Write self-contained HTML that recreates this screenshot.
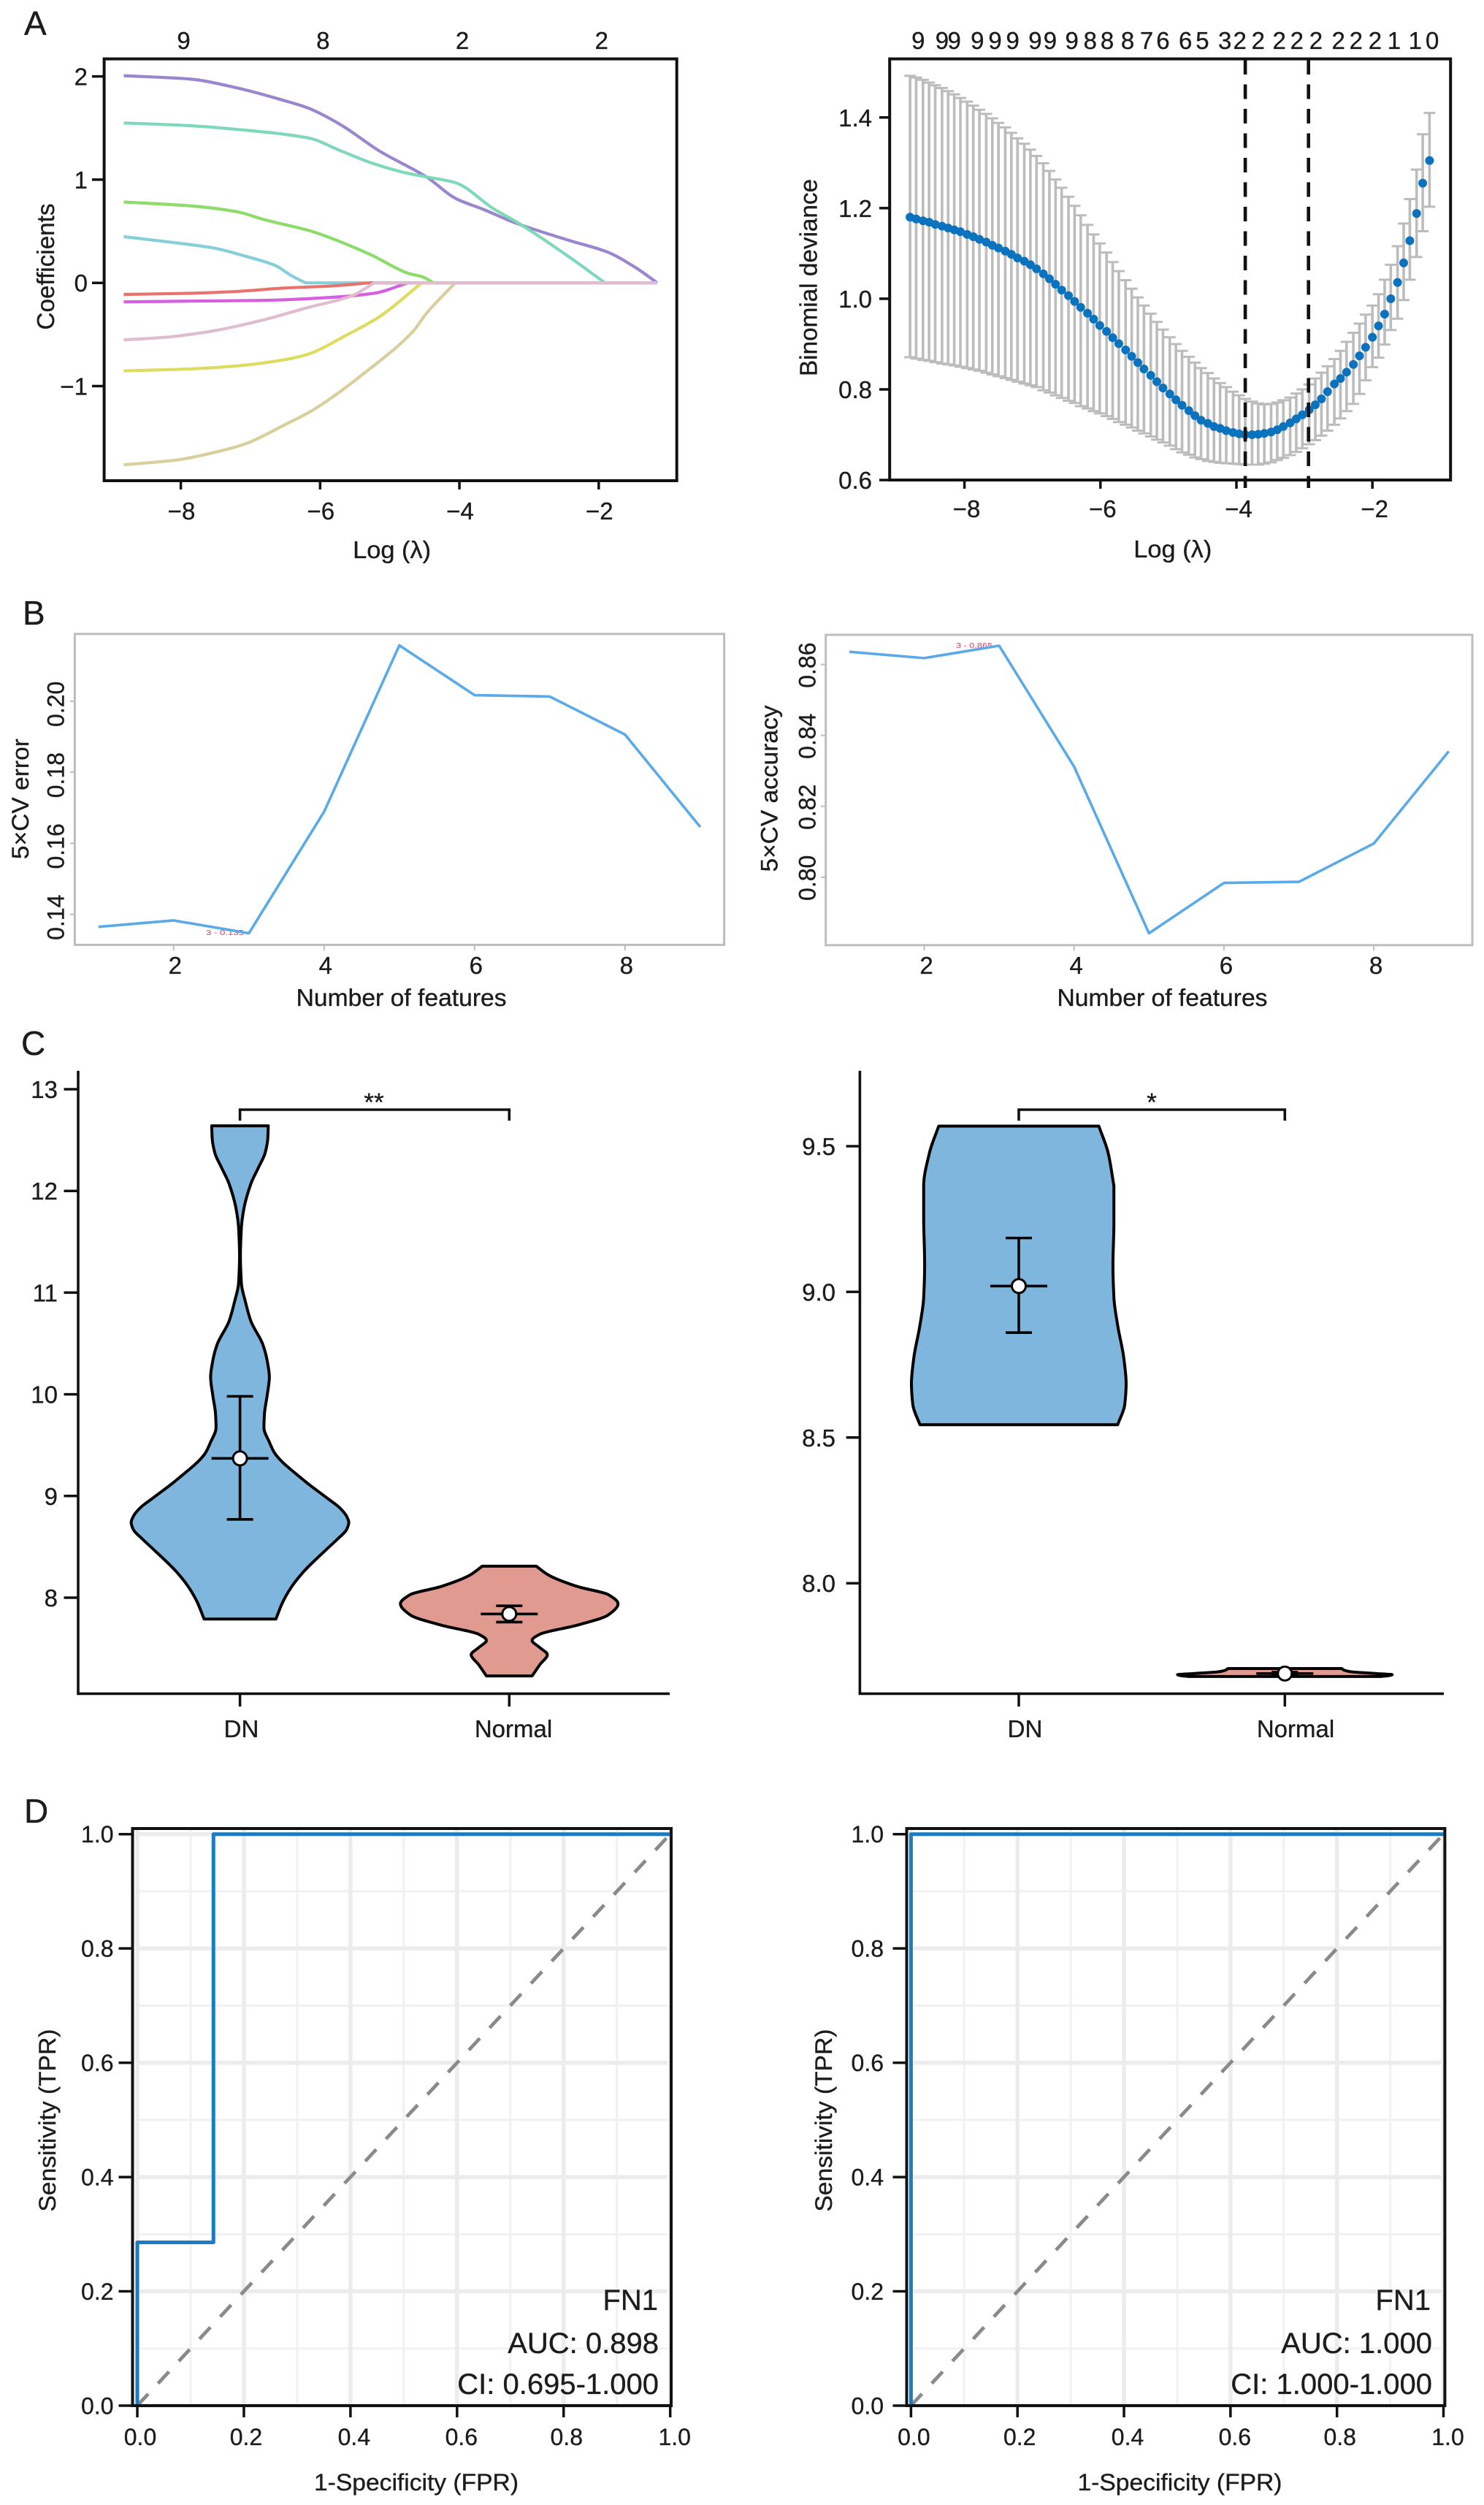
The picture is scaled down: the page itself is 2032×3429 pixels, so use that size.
<!DOCTYPE html>
<html lang="en">
<head>
<meta charset="utf-8">
<title>Feature selection, violin and ROC figure</title>
<style>
html,body{margin:0;padding:0;background:#fff;}
svg{display:block;}
text{font-family:"Liberation Sans",sans-serif;fill:#1c1c1c;stroke:#1c1c1c;stroke-width:0.35;}
</style>
</head>
<body>
<svg id="figure" xmlns="http://www.w3.org/2000/svg" width="2032" height="3429" viewBox="0 0 2032 3429">
<rect x="0" y="0" width="2032" height="3429" fill="#fff"/>

<text x="33" y="48" font-size="46">A</text>
<text x="31" y="855" font-size="46">B</text>
<text x="29" y="1444" font-size="46">C</text>
<text x="33" y="2495" font-size="46">D</text>

<g id="coefPanel">
  <text transform="rotate(-90 74 365)" x="74" y="365" font-size="33" text-anchor="middle" textLength="173" lengthAdjust="spacingAndGlyphs">Coefficients</text>
  <text x="536.6" y="764" font-size="33" text-anchor="middle" textLength="107" lengthAdjust="spacingAndGlyphs">Log (λ)</text>
</g>

<g id="cvPanel">
  <text transform="rotate(-90 1118.4 380)" x="1118.4" y="380" font-size="33" text-anchor="middle" textLength="270" lengthAdjust="spacingAndGlyphs">Binomial deviance</text>
  <text x="1605.8" y="763" font-size="33" text-anchor="middle" textLength="107" lengthAdjust="spacingAndGlyphs">Log (λ)</text>
</g>

<g id="errPanel">
  <text transform="rotate(-90 39 1093.6)" x="39" y="1093.6" font-size="32" text-anchor="middle" textLength="165" lengthAdjust="spacingAndGlyphs">5×CV error</text>
  <text x="549.6" y="1377" font-size="33" text-anchor="middle" textLength="288" lengthAdjust="spacingAndGlyphs">Number of features</text>
  <text x="282" y="1280" font-size="10" textLength="52" lengthAdjust="spacingAndGlyphs" style="fill:#e0405a;stroke:none">3 - 0.135</text>
</g>

<g id="accPanel">
  <text transform="rotate(-90 1064.6 1079.5)" x="1064.6" y="1079.5" font-size="32" text-anchor="middle" textLength="228" lengthAdjust="spacingAndGlyphs">5×CV accuracy</text>
  <text x="1591.5" y="1377" font-size="33" text-anchor="middle" textLength="288" lengthAdjust="spacingAndGlyphs">Number of features</text>
  <text x="1309" y="887" font-size="10" textLength="50" lengthAdjust="spacingAndGlyphs" style="fill:#e0405a;stroke:none">3 - 0.865</text>
</g>

<g id="violinLeft">
  <text x="330.5" y="2378" font-size="33" text-anchor="middle">DN</text>
  <text x="703" y="2378" font-size="33" text-anchor="middle">Normal</text>
  <text x="512" y="1521" font-size="35" text-anchor="middle">**</text>
</g>

<g id="violinRight">
  <text x="1403.5" y="2378" font-size="33" text-anchor="middle">DN</text>
  <text x="1774" y="2378" font-size="33" text-anchor="middle">Normal</text>
  <text x="1577" y="1521" font-size="35" text-anchor="middle">*</text>
</g>

<g id="rocLeft"></g>
<g id="rocRight"></g>

<g id="rocLeftText">
  <text transform="rotate(-90 76 2902.5)" x="76" y="2902.5" font-size="32" text-anchor="middle" textLength="250" lengthAdjust="spacingAndGlyphs">Sensitivity (TPR)</text>
  <text x="570" y="3409" font-size="32" text-anchor="middle" textLength="280" lengthAdjust="spacingAndGlyphs">1-Specificity (FPR)</text>
  <text x="901" y="3162" font-size="40" text-anchor="end">FN1</text>
  <text x="902" y="3221" font-size="40" text-anchor="end">AUC: 0.898</text>
  <text x="902" y="3277" font-size="40" text-anchor="end">CI: 0.695-1.000</text>
</g>
<g id="rocRightText">
  <text transform="rotate(-90 1139 2902.5)" x="1139" y="2902.5" font-size="32" text-anchor="middle" textLength="250" lengthAdjust="spacingAndGlyphs">Sensitivity (TPR)</text>
  <text x="1615.5" y="3409" font-size="32" text-anchor="middle" textLength="280" lengthAdjust="spacingAndGlyphs">1-Specificity (FPR)</text>
  <text x="1959" y="3162" font-size="40" text-anchor="end">FN1</text>
  <text x="1961" y="3221" font-size="40" text-anchor="end">AUC: 1.000</text>
  <text x="1961" y="3277" font-size="40" text-anchor="end">CI: 1.000-1.000</text>
</g>
</svg>

<script>
/* ---------- Panel A left: coefficient paths ---------- */
const coefXTicks = [-8, -6, -4, -2];
const coefYTicks = [-1, 0, 1, 2];
const coefTopValues = [-8, -6, -4, -2];
const coefTopCounts = ['9', '8', '2', '2'];
const coefPurpleX = [-8.82,-7.88,-7.2,-6.51,-6.17,-5.7,-5.15,-4.47,-4.06,-3.65,-3.17,-2.42,-1.88,-1.47,-1.16];
const coefPurpleY = [2.007,1.975,1.89,1.765,1.693,1.53,1.278,1.025,0.82,0.71,0.574,0.41,0.30,0.148,0];
const coefTealX = [-8.82,-7.88,-7.2,-6.17,-5.7,-5.22,-4.81,-4.47,-4.06,-3.51,-3.14,-2.42,-1.91,-1.16];
const coefTealY = [1.549,1.523,1.487,1.404,1.278,1.152,1.072,1.025,0.971,0.718,0.574,0.249,0,0];
const coefGreenX = [-8.82,-7.88,-7.2,-6.79,-6.17,-5.83,-5.29,-4.71,-4.54,-4.37,-1.16];
const coefGreenY = [0.783,0.747,0.69,0.61,0.509,0.43,0.278,0.087,0.061,0,0];
const coefCyanX = [-8.82,-8.22,-7.54,-7.06,-6.65,-6.41,-6.21,-1.16];
const coefCyanY = [0.448,0.40,0.339,0.256,0.17,0.069,0,0];
const coefRedX = [-8.82,-7.88,-7.2,-6.51,-5.83,-5.29,-1.16];
const coefRedY = [-0.112,-0.101,-0.083,-0.05,-0.03,0,0];
const coefMagentaX = [-8.82,-7.88,-6.85,-5.83,-5.22,-4.74,-1.16];
const coefMagentaY = [-0.184,-0.177,-0.17,-0.14,-0.10,0,0];
const coefYellowX = [-8.82,-7.88,-7.2,-6.51,-6.17,-5.63,-5.15,-4.54,-1.16];
const coefYellowY = [-0.852,-0.834,-0.805,-0.744,-0.69,-0.509,-0.329,0,0];
const coefTanX = [-8.82,-8.08,-7.54,-7.06,-6.51,-6.1,-5.29,-4.67,-4.47,-4.06,-1.16];
const coefTanY = [-1.762,-1.718,-1.646,-1.556,-1.375,-1.231,-0.834,-0.473,-0.292,0,0];
const coefPinkX = [-8.82,-8.22,-7.54,-6.85,-6.17,-5.56,-5.22,-1.16];
const coefPinkY = [-0.552,-0.527,-0.466,-0.365,-0.238,-0.13,0,0];

/* ---------- Panel A right: cross-validated deviance ---------- */
const cvXTicks = [-8, -6, -4, -2];
const cvYTicks = [0.6, 0.8, 1.0, 1.2, 1.4];
const cvLogLambda = [-8.80,-8.71,-8.61,-8.52,-8.43,-8.33,-8.24,-8.15,-8.06,-7.96,-7.87,-7.78,-7.68,-7.59,-7.50,-7.40,-7.31,-7.22,-7.12,-7.03,-6.94,-6.84,-6.75,-6.66,-6.57,-6.47,-6.38,-6.29,-6.19,-6.10,-6.01,-5.91,-5.82,-5.73,-5.63,-5.54,-5.45,-5.36,-5.26,-5.17,-5.08,-4.98,-4.89,-4.80,-4.70,-4.61,-4.52,-4.42,-4.33,-4.24,-4.15,-4.05,-3.96,-3.87,-3.77,-3.68,-3.59,-3.49,-3.40,-3.31,-3.21,-3.12,-3.03,-2.93,-2.84,-2.75,-2.66,-2.56,-2.47,-2.38,-2.28,-2.19,-2.10,-2.00,-1.91,-1.82,-1.73,-1.63,-1.54,-1.45,-1.35,-1.26,-1.16];
const cvMean = [1.180,1.176,1.172,1.169,1.164,1.160,1.156,1.152,1.148,1.142,1.137,1.131,1.125,1.118,1.112,1.105,1.098,1.090,1.083,1.075,1.066,1.055,1.044,1.032,1.019,1.007,0.994,0.981,0.968,0.955,0.941,0.928,0.914,0.901,0.887,0.873,0.859,0.845,0.831,0.817,0.803,0.790,0.777,0.765,0.753,0.742,0.732,0.725,0.718,0.714,0.709,0.705,0.702,0.700,0.700,0.701,0.703,0.706,0.711,0.718,0.726,0.735,0.744,0.755,0.766,0.779,0.795,0.812,0.824,0.838,0.855,0.874,0.893,0.915,0.940,0.966,1.000,1.036,1.079,1.128,1.188,1.255,1.305];
const cvUpper = [1.492,1.488,1.483,1.477,1.471,1.465,1.458,1.451,1.443,1.435,1.426,1.417,1.408,1.398,1.388,1.378,1.366,1.354,1.342,1.329,1.315,1.299,1.282,1.263,1.245,1.225,1.205,1.184,1.163,1.142,1.122,1.102,1.081,1.061,1.041,1.022,1.003,0.985,0.967,0.949,0.932,0.915,0.900,0.885,0.872,0.859,0.847,0.836,0.824,0.814,0.805,0.795,0.787,0.779,0.773,0.769,0.767,0.768,0.771,0.776,0.782,0.791,0.800,0.811,0.824,0.837,0.851,0.867,0.885,0.905,0.925,0.945,0.965,0.985,1.010,1.042,1.075,1.116,1.166,1.220,1.285,1.363,1.410];
const cvLower = [0.871,0.868,0.865,0.863,0.860,0.857,0.855,0.853,0.850,0.847,0.844,0.841,0.837,0.833,0.829,0.825,0.821,0.817,0.813,0.809,0.805,0.798,0.793,0.787,0.781,0.775,0.770,0.763,0.758,0.752,0.747,0.741,0.735,0.728,0.722,0.716,0.709,0.703,0.696,0.689,0.683,0.676,0.668,0.661,0.656,0.650,0.646,0.642,0.640,0.638,0.637,0.636,0.635,0.634,0.634,0.634,0.636,0.639,0.644,0.649,0.655,0.662,0.670,0.679,0.688,0.698,0.709,0.722,0.736,0.752,0.768,0.790,0.820,0.849,0.870,0.899,0.931,0.956,0.997,1.042,1.092,1.149,1.203];
const cvTopValues = [-8.68,-8.33,-8.15,-7.81,-7.55,-7.29,-6.96,-6.74,-6.42,-6.15,-5.90,-5.60,-5.32,-5.08,-4.75,-4.50,-4.17,-3.95,-3.68,-3.37,-3.11,-2.83,-2.50,-2.24,-1.96,-1.68,-1.37,-1.12];
const cvTopCounts = ['9','9','9','9','9','9','9','9','9','8','8','8','7','6','6','5','3','2','2','2','2','2','2','2','2','1','1','0'];
const cvLambdaLines = [-3.87, -2.94];

/* ---------- Panel B: feature-count curves ---------- */
const featureCounts = [1,2,3,4,5,6,7,8,9];
const featureXTicks = [2,4,6,8];
const errorValues = [0.1365,0.1383,0.1347,0.1689,0.2157,0.2017,0.2013,0.1906,0.1646];
const errorYTicks = [0.14,0.16,0.18,0.20];
const accuracyValues = [0.8636,0.8618,0.8653,0.8312,0.7842,0.7984,0.7987,0.8095,0.8355];
const accuracyYTicks = [0.80,0.82,0.84,0.86];

/* ---------- Panel C: violins ---------- */
const violinLeftYTicks = [8,9,10,11,12,13];
const violinRightYTicks = [8.0,8.5,9.0,9.5];
const dnLeftLevels = [12.64,12.51,12.37,12.23,12.07,11.82,11.64,11.36,11.09,10.91,10.72,10.49,10.33,10.17,9.99,9.81,9.67,9.53,9.42,9.16,8.98,8.88,8.80,8.74,8.67,8.58,8.48,8.25,8.10,7.95,7.79];
const dnLeftDensity = [0.26,0.255,0.23,0.17,0.10,0.035,0.013,0.004,0.013,0.05,0.10,0.21,0.25,0.27,0.25,0.225,0.22,0.27,0.32,0.58,0.80,0.92,0.98,1.0,0.98,0.90,0.80,0.58,0.47,0.39,0.33];
const dnLeftStats = [8.77,9.37,9.98];
const normalLeftLevels = [8.31,8.22,8.11,8.03,7.94,7.83,7.73,7.64,7.58,7.51,7.44,7.34,7.23];
const normalLeftDensity = [0.248,0.365,0.626,0.91,1.0,0.91,0.626,0.28,0.21,0.28,0.35,0.28,0.21];
const normalLeftStats = [7.76,7.84,7.92];
const dnRightLevels = [9.569,9.476,9.364,9.236,9.092,8.98,8.885,8.773,8.685,8.613,8.544];
const dnRightDensity = [0.746,0.833,0.886,0.886,0.877,0.886,0.921,0.978,1.0,0.987,0.921];
const dnRightStats = [8.86,9.02,9.185];
const normalRightLevels = [7.707,7.702,7.696,7.690,7.686,7.683,7.680];
const normalRightDensity = [0.53,0.55,0.62,0.85,1.0,0.97,0.9];
const normalRightStats = [7.685,7.69,7.695];

/* ---------- Panel D: ROC curves ---------- */
const rocMajorTicks = [0,0.2,0.4,0.6,0.8,1.0];
const rocMinorTicks = [0.1,0.3,0.5,0.7,0.9];
const rocLeftFpr = [0,0,0.1429,0.1429,1];
const rocLeftTpr = [0,0.2857,0.2857,1,1];
const rocRightFpr = [0,0,1];
const rocRightTpr = [0,1,1];
const rocChanceLine = [0,1];

/* ---------- Axis functions ---------- */
const xCoef = v => 247.6 + (v + 8) * 95.37;
const yCoef = v => 387.2 - v * 141.3;
const xCv = v => 1320.6 + (v + 8) * 93.1;
const yCv = v => 657.1 - (v - 0.6) * 620.4;
const xErr = v => 237.8 + (v - 2) * 103;
const yErr = v => 1251.7 - (v - 0.14) * 4865;
const xAcc = v => 1265.5 + (v - 2) * 102.6;
const yAcc = v => 1200.8 - (v - 0.80) * 4853;
const yViolinL = v => 2187 - (v - 8) * 139.2;
const yViolinR = v => 2167.2 - (v - 8) * 398.8;
const xRocL = v => 188 + v * 729.7;
const xRocR = v => 1247.4 + v * 729.1;
const yRoc = v => 3293 - v * 782.3;

/* ---------- Drawing helpers ---------- */
const SVGNS = 'http://www.w3.org/2000/svg';
function mk(parent, tag, attrs, name) {
  const el = document.createElementNS(SVGNS, tag);
  for (const k in attrs) el.setAttribute(k, attrs[k]);
  
  
  parent.appendChild(el);
  return el;
}
function ln(parent, x1, y1, x2, y2, stroke, width, name, dash) {
  const a = {x1, y1, x2, y2, stroke, 'stroke-width': width};
  if (dash) a['stroke-dasharray'] = dash;
  return mk(parent, 'line', a, name);
}
function lbl(parent, x, y, str, size, anchor, name, rot) {
  const a = {x, y, 'font-size': size, 'text-anchor': anchor};
  if (rot) a.transform = 'rotate(-90 ' + x + ' ' + y + ')';
  const t = mk(parent, 'text', a, name);
  t.textContent = str;
  return t;
}
function polyline(parent, xs, ys, fx, fy, stroke, width, name) {
  const pts = xs.map((x, i) => fx(x).toFixed(2) + ',' + fy(ys[i]).toFixed(2)).join(' ');
  return mk(parent, 'polyline', {points: pts, fill: 'none', stroke, 'stroke-width': width, 'stroke-linejoin': 'round'}, name);
}
/* Monotone cubic segments through (t, v) knots; flat runs are drawn straight. */
function monoSegments(ts, vs, swap) {
  const n = ts.length, d = [], m = [];
  for (let i = 0; i < n - 1; i++) d.push((vs[i + 1] - vs[i]) / (ts[i + 1] - ts[i]));
  m[0] = d[0];
  m[n - 1] = d[n - 2];
  for (let i = 1; i < n - 1; i++) {
    if (d[i] === 0) m[i] = d[i - 1];
    else if (d[i - 1] * d[i] <= 0) m[i] = 0;
    else m[i] = 2 * d[i - 1] * d[i] / (d[i - 1] + d[i]);
  }
  const pt = (t, v) => (swap ? v.toFixed(2) + ' ' + t.toFixed(2) : t.toFixed(2) + ' ' + v.toFixed(2));
  let s = '';
  for (let i = 0; i < n - 1; i++) {
    const h = ts[i + 1] - ts[i];
    if (d[i] === 0) { s += 'L' + pt(ts[i + 1], vs[i + 1]); continue; }
    s += 'C' + pt(ts[i] + h / 3, vs[i] + m[i] * h / 3) + ' ' +
         pt(ts[i + 1] - h / 3, vs[i + 1] - m[i + 1] * h / 3) + ' ' + pt(ts[i + 1], vs[i + 1]);
  }
  return s;
}
function curve(parent, xs, ys, fx, fy, stroke, width, name) {
  const ts = xs.map(fx), vs = ys.map(fy);
  const d = 'M' + ts[0].toFixed(2) + ' ' + vs[0].toFixed(2) + monoSegments(ts, vs, false);
  return mk(parent, 'path', {d, fill: 'none', stroke, 'stroke-width': width, 'stroke-linejoin': 'round'}, name);
}
function violin(parent, levels, density, cx, fy, halfMax, fill, name) {
  const py = levels.map(fy);
  const pr = density.map(w => cx + w * halfMax);
  const pl = density.map(w => cx - w * halfMax);
  const n = py.length;
  const revY = py.slice().reverse(), revL = pl.slice().reverse();
  const d = 'M' + pr[0].toFixed(2) + ' ' + py[0].toFixed(2) + monoSegments(py, pr, true) +
    'L' + pl[n - 1].toFixed(2) + ' ' + py[n - 1].toFixed(2) + monoSegments(revY, revL, true) + 'Z';
  return mk(parent, 'path', {d, fill, stroke: '#000', 'stroke-width': 4, 'stroke-linejoin': 'round'}, name);
}
function violinStats(parent, cx, fy, stats, prefix) {
  ln(parent, cx, fy(stats[0]), cx, fy(stats[2]), '#000', 3.6, prefix + '-error-bar');
  ln(parent, cx - 18, fy(stats[2]), cx + 18, fy(stats[2]), '#000', 3.6, prefix + '-upper-cap');
  ln(parent, cx - 18, fy(stats[0]), cx + 18, fy(stats[0]), '#000', 3.6, prefix + '-lower-cap');
  ln(parent, cx - 39, fy(stats[1]), cx + 39, fy(stats[1]), '#000', 3.6, prefix + '-mean-bar');
  mk(parent, 'circle', {cx, cy: fy(stats[1]), r: 9.5, fill: '#fff', stroke: '#000', 'stroke-width': 3}, prefix + '-mean-marker');
}
const fmtTick = v => String(v).replace('-', '\u2212');

/* ---------- Panel A left ---------- */
(function () {
  const g = document.getElementById('coefPanel');
  curve(g, coefPurpleX, coefPurpleY, xCoef, yCoef, '#9a86cf', 4.2, 'coef-path-purple');
  curve(g, coefTealX, coefTealY, xCoef, yCoef, '#7fd9b9', 4.2, 'coef-path-teal');
  curve(g, coefGreenX, coefGreenY, xCoef, yCoef, '#8bdc68', 4.2, 'coef-path-green');
  curve(g, coefCyanX, coefCyanY, xCoef, yCoef, '#85cfd9', 4.2, 'coef-path-cyan');
  curve(g, coefRedX, coefRedY, xCoef, yCoef, '#e8736e', 4.2, 'coef-path-red');
  curve(g, coefMagentaX, coefMagentaY, xCoef, yCoef, '#d55fe0', 4.2, 'coef-path-magenta');
  curve(g, coefYellowX, coefYellowY, xCoef, yCoef, '#dedc5e', 4.2, 'coef-path-yellow');
  curve(g, coefTanX, coefTanY, xCoef, yCoef, '#d9cf9c', 4.2, 'coef-path-tan');
  curve(g, coefPinkX, coefPinkY, xCoef, yCoef, '#e0bccf', 4.2, 'coef-path-pink');
  mk(g, 'rect', {x: 142.6, y: 80.6, width: 784.1, height: 577.4, fill: 'none', stroke: '#111', 'stroke-width': 4}, 'coef-plot-frame');
  coefXTicks.forEach(v => {
    ln(g, xCoef(v), 658, xCoef(v), 670, '#111', 3.5, 'coef-x-tick');
    lbl(g, xCoef(v) + 1, 711, fmtTick(v), 33, 'middle', 'coef-x-tick-label');
  });
  coefYTicks.forEach(v => {
    ln(g, 126, yCoef(v), 142.6, yCoef(v), '#111', 3.5, 'coef-y-tick');
    lbl(g, 120, yCoef(v) + 12, fmtTick(v), 33, 'end', 'coef-y-tick-label');
  });
  coefTopValues.forEach((v, i) => lbl(g, xCoef(v) + 4, 67, coefTopCounts[i], 33, 'middle', 'coef-top-count'));
})();

/* ---------- Panel A right ---------- */
(function () {
  const g = document.getElementById('cvPanel');
  cvLogLambda.forEach((x, i) => {
    const px = xCv(x);
    ln(g, px, yCv(cvLower[i]), px, yCv(cvUpper[i]), '#bcbcbc', 3.6, 'cv-error-bar');
    ln(g, px - 8, yCv(cvUpper[i]), px + 8, yCv(cvUpper[i]), '#bcbcbc', 3, 'cv-error-cap-upper');
    ln(g, px - 8, yCv(cvLower[i]), px + 8, yCv(cvLower[i]), '#bcbcbc', 3, 'cv-error-cap-lower');
  });
  cvLogLambda.forEach((x, i) => {
    mk(g, 'circle', {cx: xCv(x), cy: yCv(cvMean[i]), r: 6, fill: '#0b72bd'}, 'cv-mean-point');
  });
  cvLambdaLines.forEach(v => ln(g, xCv(v), 82, xCv(v), 668, '#111', 4.6, 'cv-lambda-line', '20 13.5'));
  mk(g, 'rect', {x: 1218.2, y: 80.6, width: 768, height: 576.5, fill: 'none', stroke: '#111', 'stroke-width': 4}, 'cv-plot-frame');
  cvXTicks.forEach(v => {
    ln(g, xCv(v), 657, xCv(v), 669, '#111', 3.5, 'cv-x-tick');
    lbl(g, xCv(v) + 3, 708, fmtTick(v), 33, 'middle', 'cv-x-tick-label');
  });
  cvYTicks.forEach(v => {
    ln(g, 1204, yCv(v), 1218.2, yCv(v), '#111', 3.5, 'cv-y-tick');
    lbl(g, 1194, yCv(v) + 12, v.toFixed(1), 33, 'end', 'cv-y-tick-label');
  });
  cvTopValues.forEach((v, i) => lbl(g, xCv(v), 67, cvTopCounts[i], 33, 'middle', 'cv-top-count'));
})();

/* ---------- Panel B ---------- */
(function () {
  const g = document.getElementById('errPanel');
  mk(g, 'rect', {x: 102.4, y: 867.8, width: 889.2, height: 425.6, fill: 'none', stroke: '#bdbdbd', 'stroke-width': 3}, 'cv-error-frame');
  polyline(g, featureCounts, errorValues, xErr, yErr, '#5aa9e8', 3.6, 'cv-error-line');
  featureXTicks.forEach(v => {
    ln(g, xErr(v), 1293.4, xErr(v), 1301, '#bdbdbd', 2, 'cv-error-x-tick');
    lbl(g, xErr(v) + 2, 1333, String(v), 33, 'middle', 'cv-error-x-tick-label');
  });
  errorYTicks.forEach(v => {
    ln(g, 96, yErr(v), 102.4, yErr(v), '#bdbdbd', 2, 'cv-error-y-tick');
    lbl(g, 87.5, yErr(v) + 4, v.toFixed(2), 32, 'middle', 'cv-error-y-tick-label', true);
  });

  const h = document.getElementById('accPanel');
  mk(h, 'rect', {x: 1130.7, y: 869, width: 885.3, height: 424.8, fill: 'none', stroke: '#bdbdbd', 'stroke-width': 3}, 'cv-accuracy-frame');
  polyline(h, featureCounts, accuracyValues, xAcc, yAcc, '#5aa9e8', 3.6, 'cv-accuracy-line');
  featureXTicks.forEach(v => {
    ln(h, xAcc(v), 1293.8, xAcc(v), 1301, '#bdbdbd', 2, 'cv-accuracy-x-tick');
    lbl(h, xAcc(v) + 3, 1333, String(v), 33, 'middle', 'cv-accuracy-x-tick-label');
  });
  accuracyYTicks.forEach(v => {
    ln(h, 1124, yAcc(v), 1130.7, yAcc(v), '#bdbdbd', 2, 'cv-accuracy-y-tick');
    lbl(h, 1116.5, yAcc(v) + 1, v.toFixed(2), 32, 'middle', 'cv-accuracy-y-tick-label', true);
  });
})();

/* ---------- Panel C ---------- */
(function () {
  const g = document.getElementById('violinLeft');
  const cxDn = 328.6, cxNormal = 697.3;
  violin(g, dnLeftLevels, dnLeftDensity, cxDn, yViolinL, 149, '#7fb6dd', 'violin-left-dn');
  violin(g, normalLeftLevels, normalLeftDensity, cxNormal, yViolinL, 149, '#e09a8f', 'violin-left-normal');
  violinStats(g, cxDn, yViolinL, dnLeftStats, 'violin-left-dn');
  violinStats(g, cxNormal, yViolinL, normalLeftStats, 'violin-left-normal');
  mk(g, 'polyline', {points: cxDn + ',1534 ' + cxDn + ',1519 ' + cxNormal + ',1519 ' + cxNormal + ',1534', fill: 'none', stroke: '#111', 'stroke-width': 3.6}, 'violin-left-bracket');
  mk(g, 'polyline', {points: '107,1465.7 107,2318.4 917,2318.4', fill: 'none', stroke: '#111', 'stroke-width': 3.6}, 'violin-left-axes');
  violinLeftYTicks.forEach(v => {
    ln(g, 87.5, yViolinL(v), 107, yViolinL(v), '#111', 3.5, 'violin-left-y-tick');
    lbl(g, 79, yViolinL(v) + 12, String(v), 33, 'end', 'violin-left-y-tick-label');
  });
  ln(g, cxDn, 2318.4, cxDn, 2336, '#111', 3.5, 'violin-left-x-tick');
  ln(g, cxNormal, 2318.4, cxNormal, 2336, '#111', 3.5, 'violin-left-x-tick');

  const h = document.getElementById('violinRight');
  const cxDnR = 1395, cxNormalR = 1759.3;
  violin(h, dnRightLevels, dnRightDensity, cxDnR, yViolinR, 147, '#7fb6dd', 'violin-right-dn');
  violin(h, normalRightLevels, normalRightDensity, cxNormalR, yViolinR, 147, '#e09a8f', 'violin-right-normal');
  violinStats(h, cxDnR, yViolinR, dnRightStats, 'violin-right-dn');
  violinStats(h, cxNormalR, yViolinR, normalRightStats, 'violin-right-normal');
  mk(h, 'polyline', {points: cxDnR + ',1534 ' + cxDnR + ',1519 ' + cxNormalR + ',1519 ' + cxNormalR + ',1534', fill: 'none', stroke: '#111', 'stroke-width': 3.6}, 'violin-right-bracket');
  mk(h, 'polyline', {points: '1177.4,1465.7 1177.4,2318.4 1977,2318.4', fill: 'none', stroke: '#111', 'stroke-width': 3.6}, 'violin-right-axes');
  violinRightYTicks.forEach(v => {
    ln(h, 1158.6, yViolinR(v), 1177.4, yViolinR(v), '#111', 3.5, 'violin-right-y-tick');
    lbl(h, 1144, yViolinR(v) + 12, v.toFixed(1), 33, 'end', 'violin-right-y-tick-label');
  });
  ln(h, cxDnR, 2318.4, cxDnR, 2336, '#111', 3.5, 'violin-right-x-tick');
  ln(h, cxNormalR, 2318.4, cxNormalR, 2336, '#111', 3.5, 'violin-right-x-tick');
})();

/* ---------- Panel D ---------- */
function drawRoc(g, fx, fpr, tpr, frameL, frameR, labelEnd, labelShift, prefix) {
  rocMinorTicks.forEach(v => {
    ln(g, fx(v), 2503, fx(v), 3293, '#f1f1f1', 3, prefix + '-minor-grid-x');
    ln(g, frameL + 9, yRoc(v), frameR - 5, yRoc(v), '#f1f1f1', 3, prefix + '-minor-grid-y');
  });
  rocMajorTicks.forEach(v => {
    ln(g, fx(v), 2503, fx(v), 3293, '#ececec', 5.5, prefix + '-major-grid-x');
    ln(g, frameL + 9, yRoc(v), frameR - 5, yRoc(v), '#ececec', 5.5, prefix + '-major-grid-y');
  });
  ln(g, fx(rocChanceLine[0]), yRoc(rocChanceLine[0]), fx(rocChanceLine[1]), yRoc(rocChanceLine[1]), '#8a8a8a', 4.8, prefix + '-chance-line', '22 19.6');
  polyline(g, fpr, tpr, fx, yRoc, '#1b7cc4', 5, prefix + '-curve');
  mk(g, 'rect', {x: frameL, y: 2503, width: frameR - frameL, height: 790, fill: 'none', stroke: '#111', 'stroke-width': 4}, prefix + '-frame');
  rocMajorTicks.forEach((v, i) => {
    ln(g, fx(v), 3293, fx(v), 3309, '#111', 3.5, prefix + '-x-tick');
    lbl(g, fx(v) + labelShift[i], 3347, v.toFixed(1), 32, 'middle', prefix + '-x-tick-label');
    ln(g, frameL - 19, yRoc(v), frameL, yRoc(v), '#111', 3.5, prefix + '-y-tick');
    lbl(g, labelEnd, yRoc(v) + 11.5, v.toFixed(1), 32, 'end', prefix + '-y-tick-label');
  });
}
const rocLabelShiftLeft = [4, 3, 5, 6, 4, 6];
drawRoc(document.getElementById('rocLeft'), xRocL, rocLeftFpr, rocLeftTpr, 181.5, 919, 155.5, rocLabelShiftLeft, 'roc-left');
drawRoc(document.getElementById('rocRight'), xRocR, rocRightFpr, rocRightTpr, 1241.5, 1978.4, 1210, rocLabelShiftLeft, 'roc-right');
</script>
</body>
</html>
